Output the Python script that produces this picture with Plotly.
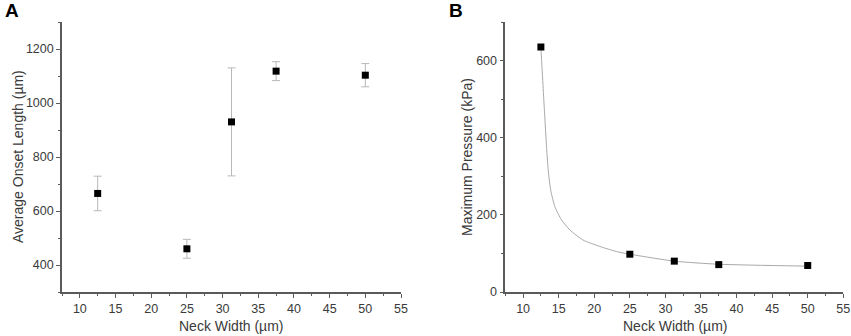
import plotly.graph_objects as go

# Panel A data
neck_width_a = [12.5, 25, 31.25, 37.5, 50]
onset_length = [665, 460, 930, 1118, 1103]
onset_err = [64, 35, 200, 35, 43]

# Panel B data
neck_width_b = [12.5, 25, 31.25, 37.5, 50]
max_pressure = [635, 98, 80, 71, 69]

# Fitted curve, points
fit_x = [12.5, 12.6, 13.0, 13.3, 13.53, 13.87, 14.47, 15.4, 16.57, 18.4, 20.8, 23.1, 25, 31.25, 37.5, 50]
fit_y = [635, 601, 470, 375, 316, 265, 221, 187, 161, 135, 118, 105, 98, 80, 72, 67]

x_ticks = [10, 15, 20, 25, 30, 35, 40, 45, 50, 55]

FONT = "Liberation Sans, Arial, sans-serif"
AX = "#5a5a5a"
TXT = "#3a3a3a"
W, H = 851, 336


def px(x):
    return x / W


def py(y):
    return 1 - y / H


fig = go.Figure()

fig.add_trace(go.Scatter(
    x=neck_width_a, y=onset_length, mode="markers",
    marker=dict(symbol="square", size=7, color="black"),
    error_y=dict(type="data", array=onset_err, color="#b8b8b8", thickness=1, width=4),
    xaxis="x", yaxis="y", showlegend=False))

fig.add_trace(go.Scatter(
    x=fit_x, y=fit_y, mode="lines", line=dict(color="#a8a8a8", width=1, shape="spline", smoothing=0.6),
    xaxis="x2", yaxis="y2", showlegend=False))

fig.add_trace(go.Scatter(
    x=neck_width_b, y=max_pressure, mode="markers",
    marker=dict(symbol="square", size=7, color="black"),
    xaxis="x2", yaxis="y2", showlegend=False))


def xax(domain, anchor):
    return dict(domain=domain, anchor=anchor, range=[7.5, 55.0001], tickvals=x_ticks, automargin=False,
                showline=True, linecolor=AX, linewidth=1.6, ticks="outside", ticklen=4,
                tickcolor=AX, showgrid=False, zeroline=False, ticklabeloverflow="allow",
                minor=dict(dtick=2.5, tick0=7.5, ticks="outside", ticklen=2.5, tickcolor=AX, showgrid=False),
                tickfont=dict(family=FONT, size=12.5, color=TXT))


def yax(domain, anchor, rng, tv):
    return dict(domain=domain, anchor=anchor, range=rng, tickvals=tv, automargin=False,
                showline=True, linecolor=AX, linewidth=1.6, ticks="outside", ticklen=4,
                tickcolor=AX, showgrid=False, zeroline=False, ticklabeloverflow="allow",
                minor=dict(dtick=100, ticks="outside", ticklen=2.5, tickcolor=AX, showgrid=False),
                tickfont=dict(family=FONT, size=12.5, color=TXT))


ydom = [py(292), py(22)]
fig.update_layout(
    width=W, height=H, margin=dict(l=0, r=0, t=0, b=0, autoexpand=False),
    paper_bgcolor="white", plot_bgcolor="white",
    xaxis=xax([px(62), px(401)], "y"),
    yaxis=yax(ydom, "x", [300, 1300], [400, 600, 800, 1000, 1200]),
    xaxis2=xax([px(505.3), px(843.3)], "y2"),
    yaxis2=yax(ydom, "x2", [0, 700], [0, 200, 400, 600]),
)

ann = [
    dict(text="<b>A</b>", x=px(3), y=py(11), xanchor="left", yanchor="middle",
         font=dict(family=FONT, size=19, color="black")),
    dict(text="<b>B</b>", x=px(447), y=py(11), xanchor="left", yanchor="middle",
         font=dict(family=FONT, size=19, color="black")),
    dict(text="Neck Width (µm)", x=px(231), y=py(326), xanchor="center", yanchor="middle",
         font=dict(family=FONT, size=14, color=TXT)),
    dict(text="Neck Width (µm)", x=px(675), y=py(326), xanchor="center", yanchor="middle",
         font=dict(family=FONT, size=14, color=TXT)),
    dict(text="Average Onset Length (µm)", x=px(18), y=py(157), xanchor="center", yanchor="middle",
         textangle=-90, font=dict(family=FONT, size=14, color=TXT)),
    dict(text="Maximum Pressure (kPa)", x=px(467), y=py(157), xanchor="center", yanchor="middle",
         textangle=-90, font=dict(family=FONT, size=14, color=TXT)),
]
for a in ann:
    a.update(xref="paper", yref="paper", showarrow=False)
fig.update_layout(annotations=ann)

fig.write_html("out.html", config={"displayModeBar": False},
               post_script="document.body.style.margin='0';document.body.style.padding='0';")
